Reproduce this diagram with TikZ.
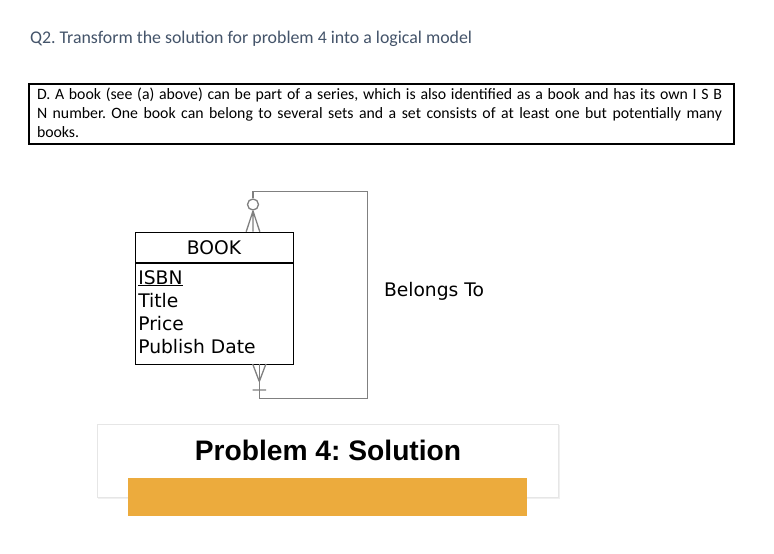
\documentclass[tikz,border=0pt]{standalone}
\usepackage{fontspec}
\newfontfamily\calfont{Carlito}
\newfontfamily\dvfont{DejaVu Sans}
\newfontfamily\arfont{Liberation Sans}
\definecolor{titleblue}{HTML}{44546A}
\definecolor{connGray}{HTML}{808080}
\definecolor{barOrange}{HTML}{ECAB3D}
\definecolor{cardEdge}{HTML}{E6E6E6}
\begin{document}
\frenchspacing
\begin{tikzpicture}[x=1pt,y=-1pt,
  txt/.style={inner sep=0pt,outer sep=0pt,anchor=base west},
  attr/.style={txt,font=\dvfont\fontsize{18.7}{20}\selectfont},
  conn/.style={draw=connGray,line width=1.3pt},
  entbox/.style={draw=black,line width=1.2pt}]
\useasboundingbox[fill=white] (0,0) rectangle (774,554);
% title
\node[txt,text=titleblue,font=\calfont\fontsize{17.85}{20}\selectfont] (title) at (30,43) {Q2. Transform the solution for problem 4 into a logical model};
% problem statement box
\node[draw=black,line width=2pt,inner sep=0pt,minimum width=705,minimum height=60,anchor=north west] (stmt) at (28,82.5) {};
\begin{scope}[every node/.style={txt,font=\calfont\fontsize{15.8}{17}\selectfont}]
\node (l1) at (37,99.3) {\hbox to 685pt{D. A book (see (a) above) can be part of a series, which is also identified as a book and has its own I S B}};
\node (l2) at (37,118.5) {\hbox to 685pt{N number. One book can belong to several sets and a set consists of at least one but potentially many}};
\node (l3) at (37,137.5) {books.};
\end{scope}
% entity
\node[entbox,inner sep=0pt,minimum width=158,minimum height=132.3,anchor=north west] (book) at (135,231.7) {};
\draw[entbox] (135,263) -- (293,263);
\node[attr,anchor=base] (bname) at (214,254) {BOOK};
\node[attr] (a1) at (138.3,284) {\underline{ISBN}};
\node[attr] (a2) at (138.3,307.3) {Title};
\node[attr] (a3) at (138.3,330.5) {Price};
\node[attr] (a4) at (138.3,353.7) {Publish Date};
% relationship connector
\coordinate (tA) at (253,231.7);
\coordinate (tC) at (253,211);
\coordinate (c1) at (253,191.7);
\coordinate (c2) at (367.6,191.7);
\coordinate (c3) at (367.6,398.3);
\coordinate (c4) at (259.3,398.3);
\coordinate (bA) at (259.3,364);
\coordinate (bC) at (259.3,381.5);
\node[conn,circle,inner sep=0pt,minimum size=11pt,fill=white] (circ) at (253,204.5) {};
\draw[conn] (circ.north) -- (c1) -- (c2) -- (c3) -- (c4) -- (bA);
\draw[conn] (circ.south) -- (tC) (tC) -- (tA) (tC) -- (246.2,231.7) (tC) -- (259.8,231.7);
\draw[conn] (bC) -- (252.7,364) (bC) -- (265.9,364) (252.7,390) -- (266,390);
\node[attr] (rel) at (384,296) {Belongs To};
% solution card
\fill[black!6] (98,425) rectangle (559.5,498.5);
\node[draw=cardEdge,fill=white,line width=0.8pt,inner sep=0pt,minimum width=461,minimum height=73,anchor=north west] (card) at (97,424) {};
\fill[barOrange] (128,478) rectangle (527,516);
\node[txt,anchor=base,font=\arfont\bfseries\fontsize{28.2}{30}\selectfont] (sol) at (328,460) {Problem 4: Solution};
\end{tikzpicture}
\end{document}
